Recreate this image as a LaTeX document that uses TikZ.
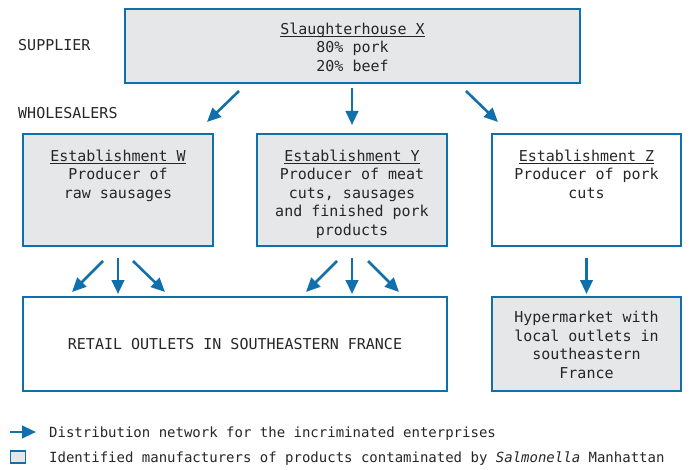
\documentclass[tikz,border=0pt]{standalone}
\usepackage{fontspec}
\setmainfont{DejaVu Sans Mono}
\usetikzlibrary{arrows.meta,calc}
\definecolor{bblue}{HTML}{1070AC}
\definecolor{bgray}{HTML}{E6E7E8}
\definecolor{txt}{HTML}{262626}
\newcommand\myul[1]{\setbox0\hbox{#1}\rlap{\rule[-2.4pt]{\wd0}{0.9pt}}\box0}
\begin{document}
\begin{tikzpicture}[x=1pt,y=-1pt,
  box/.style={draw=bblue,line width=2.8pt,inner sep=0pt,outer sep=0pt},
  gbox/.style={box,fill=bgray},
  lbl/.style={font=\fontsize{15}{18.5}\selectfont,text=txt,align=center,inner sep=0pt},
  leg/.style={font=\fontsize{14}{18}\selectfont,text=txt,inner sep=0pt},
  arr/.style={draw=bblue,line width=2.6pt,-{Triangle[length=14pt,width=12.5pt]}}]
\useasboundingbox (0,0) rectangle (690,470);
% boxes
\node[gbox,minimum width=455pt,minimum height=74pt] (X) at (352.5,46) {};
\node[gbox,minimum width=190pt,minimum height=112pt] (W) at (118,190) {};
\node[gbox,minimum width=190pt,minimum height=112pt] (Y) at (352,190) {};
\node[box,minimum width=189pt,minimum height=112pt] (Z) at (586.5,190) {};
\node[box,minimum width=424pt,minimum height=94pt] (R) at (235,344) {};
\node[gbox,minimum width=189pt,minimum height=94pt] (H) at (586.5,344) {};
% texts (anchor base = baseline of last line)
\node[lbl,anchor=base] (Xt) at ($(X.north)+(0,62.5)$) {\myul{Slaughterhouse X}\\80\% pork\\20\% beef};
\node[lbl,anchor=base] (Wt) at ($(W.north)+(0,64.5)$) {\myul{Establishment W}\\Producer of\\raw sausages};
\node[lbl,anchor=base] (Yt) at ($(Y.north)+(0,101.5)$) {\myul{Establishment Y}\\Producer of meat\\cuts, sausages\\and finished pork\\products};
\node[lbl,anchor=base] (Zt) at ($(Z.north)+(0,64.5)$) {\myul{Establishment Z}\\Producer of pork\\cuts};
\node[lbl] (Rt) at (R.center) {RETAIL OUTLETS IN SOUTHEASTERN FRANCE};
\node[lbl] (Ht) at ($(H.center)+(0,1)$) {Hypermarket with\\local outlets in\\southeastern\\France};
\node[lbl,anchor=base west] (sup) at (18,50.5) {SUPPLIER};
\node[lbl,anchor=base west] (whl) at (18,118.5) {WHOLESALERS};
% arrows
\draw[arr] ($(X.south)+(-113.5,8)$) -- ($(W.north)+(89,-12)$);
\draw[arr] ($(X.south)+(-0.5,5)$) -- ($(Y.north)+(0,-9)$);
\draw[arr] ($(X.south)+(113.5,8)$) -- ($(Z.north)+(-88.5,-12)$);
\draw[arr] ($(W.south)+(-15,15)$) -- ($(R.north)+(-163,-5)$);
\draw[arr] ($(W.south)+(0,12)$) -- ($(R.north)+(-117,-3)$);
\draw[arr] ($(W.south)+(15,15)$) -- ($(R.north)+(-70,-5)$);
\draw[arr] ($(Y.south)+(-15,15)$) -- ($(R.north)+(71,-5)$);
\draw[arr] ($(Y.south)+(0,12)$) -- ($(R.north)+(117,-3)$);
\draw[arr] ($(Y.south)+(16,15)$) -- ($(R.north)+(164,-5)$);
\draw[arr] ($(Z.south)+(0,12)$) -- ($(H.north)+(0,-3)$);
% legend
\coordinate (la) at (10,432);
\coordinate (lb) at (36,432);
\draw[arr] (la) -- (lb);
\node[gbox,line width=1.6pt,minimum width=15pt,minimum height=12pt] (sq) at (18,457) {};
\node[leg,anchor=base west] (l1) at (49,437.5) {Distribution network for the incriminated enterprises};
\node[leg,anchor=base west] (l2) at (49,462.5) {Identified manufacturers of products contaminated by \textit{Salmonella} Manhattan};
\end{tikzpicture}
\end{document}
